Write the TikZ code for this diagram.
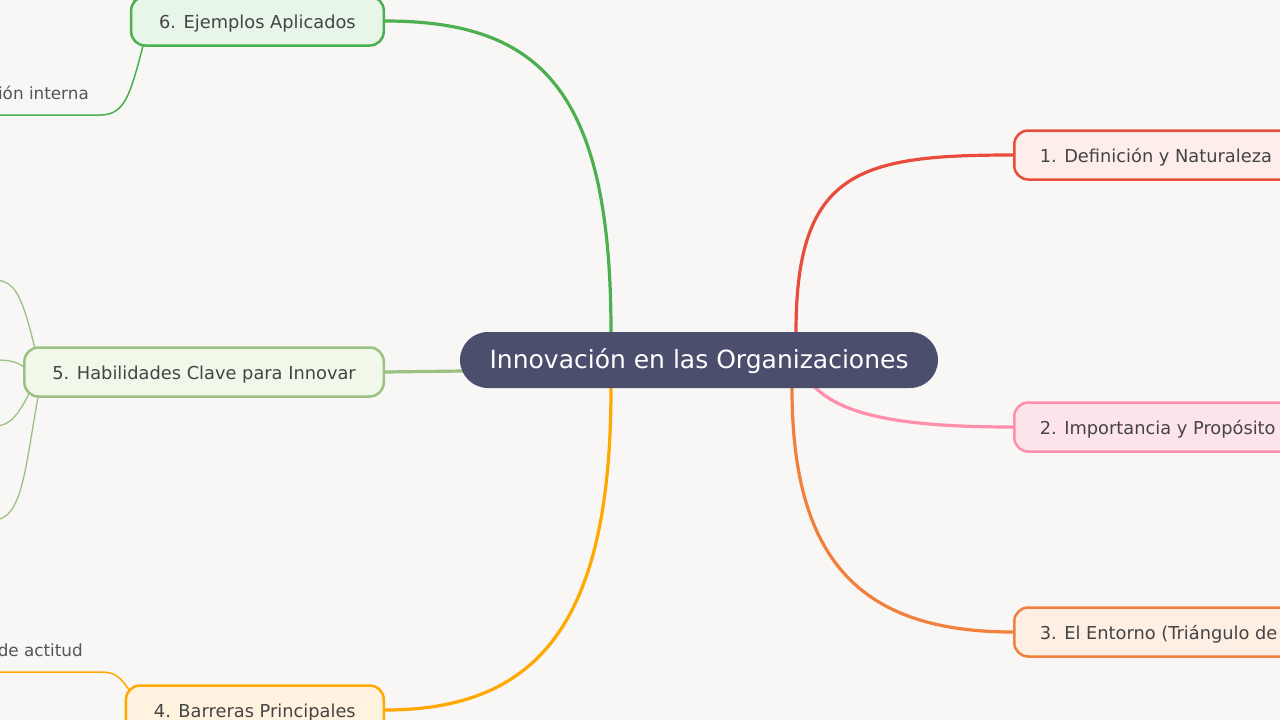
\documentclass[tikz,border=0pt]{standalone}
\usepackage{fontspec}
\setmainfont{DejaVu Sans}
\usetikzlibrary{backgrounds,calc}
\definecolor{bg}{HTML}{F8F7F5}
\definecolor{cen}{HTML}{4B4E6C}
\definecolor{txt}{HTML}{444444}
\definecolor{leaf}{HTML}{555555}
\definecolor{gsix}{HTML}{4CAF50}\definecolor{fsix}{HTML}{E8F5E9}
\definecolor{gfive}{HTML}{9BC184}\definecolor{ffive}{HTML}{F1F8E9}
\definecolor{gfour}{HTML}{FFA800}\definecolor{ffour}{HTML}{FFF3E0}
\definecolor{gone}{HTML}{E74C3C}\definecolor{fone}{HTML}{FDEDEB}
\definecolor{gtwo}{HTML}{FF8FAB}\definecolor{ftwo}{HTML}{FDE4EA}
\definecolor{gthree}{HTML}{F0803C}\definecolor{fthree}{HTML}{FDEFE4}
\begin{document}
\begin{tikzpicture}[x=1pt,y=-1pt,
  box/.style={draw, rounded corners=14pt, line width=2.5pt, minimum height=49pt,
    inner xsep=28pt, text height=16pt, text depth=2pt, text=txt, font=\fontsize{17.8}{21}\selectfont},
  rbox/.style={box, inner xsep=25.5pt},
  conn/.style={line width=3.2pt},
  sub/.style={line width=1.5pt},
  leaftext/.style={text=leaf, inner sep=0pt, font=\fontsize{16.8}{20}\selectfont}]
\useasboundingbox (0,0) rectangle (1280,720);
\node[fill=cen, rounded corners=28pt, minimum width=478pt, minimum height=56pt,
  text height=21pt, text depth=4pt,
  text=white, font=\fontsize{25}{30}\selectfont] (c) at (699,360) {Innovación en las Organizaciones};
\node[box, draw=gsix, fill=fsix, anchor=east] (n6) at (385,21) {6. Ejemplos Aplicados};
\node[box, draw=gfive, fill=ffive, anchor=east] (n5) at (385,372) {5. Habilidades Clave para Innovar};
\node[box, draw=gfour, fill=ffour, anchor=east] (n4) at (385,710) {4. Barreras Principales};
\node[rbox, draw=gone, fill=fone, anchor=west] (n1) at (1013,155) {1. Definición y Naturaleza};
\node[rbox, draw=gtwo, fill=ftwo, anchor=west] (n2) at (1013,427) {2. Importancia y Propósito};
\node[rbox, draw=gthree, fill=fthree, anchor=west] (n3) at (1013,632) {3. El Entorno (Triángulo de};
\node[leaftext, anchor=east] (l6) at (89,93) {ión interna};
\node[leaftext, anchor=east] (l4) at (83,650) {de actitud};
\coordinate (e6a) at (-5,115);
\coordinate (e6b) at (128,-8);
\coordinate (e5a) at (-5,280);
\coordinate (e5b) at (-5,360);
\coordinate (e5c) at (-5,426);
\coordinate (e5d) at (-5,520);
\coordinate (e4a) at (-5,672);
\begin{pgfonlayer}{background}
\fill[bg] (-10,-10) rectangle (1290,730);
% main connectors
\draw[conn, gsix] ([xshift=-88pt]c.north) .. controls +(0,-242) and +(155,0) .. (n6.east);
\draw[conn, gfour] ([xshift=-88pt]c.south) .. controls +(0,232) and +(155,0) .. (n4.east);
\draw[conn, gfive] ($(c.west)+(4,11)$) -- (n5.east);
\draw[conn, gone] ([xshift=97pt]c.north) .. controls +(0,-162) and +(-153,0) .. (n1.west);
\draw[conn, gthree] ([xshift=93pt]c.south) .. controls +(0,172) and +(-153,0) .. (n3.west);
\draw[conn, gtwo] ($(c.south)+(113,-4)$) .. controls +(28,31) and +(-113,0) .. (n2.west);
% sub branches
\draw[sub, gsix] (143,46) .. controls (130,95) and (125,115) .. (100,115) -- (e6a);
\draw[sub, gsix] (141,10) -- (e6b);
\draw[sub, gfive, line width=1.3pt] (35,349) .. controls (22,295) and (15,281) .. (e5a);
\draw[sub, gfive, line width=1.3pt] (24,367) .. controls (15,361) and (8,360) .. (e5b);
\draw[sub, gfive, line width=1.3pt] (30,392) .. controls (18,415) and (10,426) .. (e5c);
\draw[sub, gfive, line width=1.3pt] (38,397) .. controls (25,470) and (22,518) .. (e5d);
\draw[sub, gfour] (131,693) .. controls (120,676) and (115,672) .. (100,672) -- (e4a);
\end{pgfonlayer}
\end{tikzpicture}
\end{document}
